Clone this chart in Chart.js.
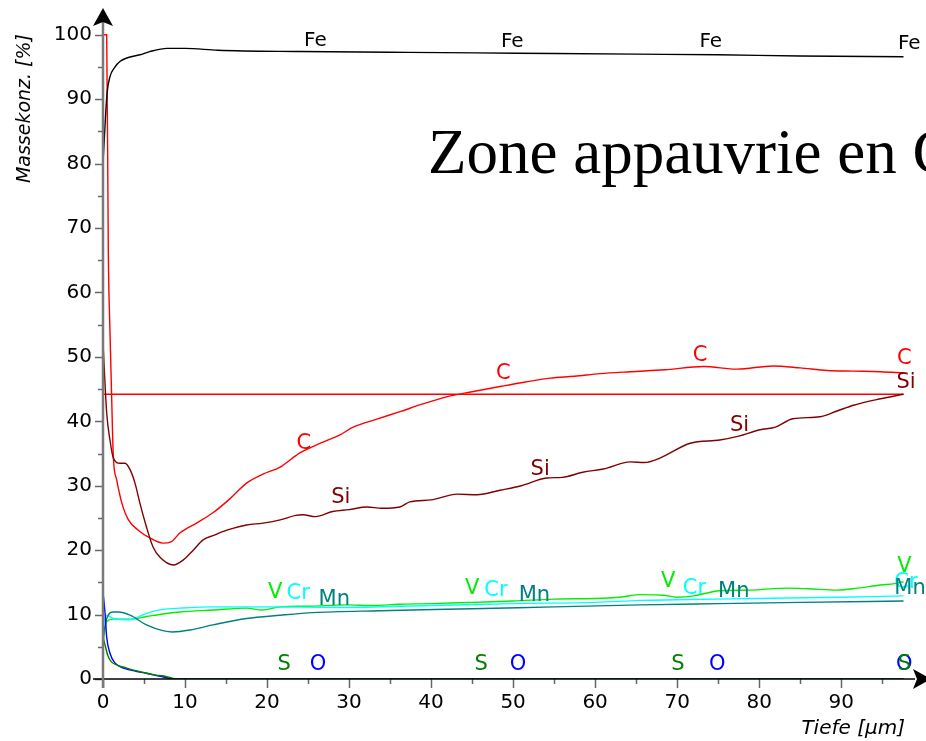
<!DOCTYPE html>
<html>
<head>
<meta charset="utf-8">
<script src="https://cdn.jsdelivr.net/npm/chart.js@4.4.1/dist/chart.umd.min.js"></script>
<style>
  html, body { margin: 0; padding: 0; background: #fff; }
  #wrap { width: 926px; height: 741px; overflow: hidden; }
</style>
</head>
<body>
<div id="wrap"><canvas id="profil" width="926" height="741"></canvas></div>
<script>
// Tiefenprofil (GDOES)
const tiefeFe = [0, 0.25, 0.5, 0.85, 1.45, 2.1, 2.9, 4.5, 5.7, 7.8, 10, 14, 24, 35, 45.6, 55, 65, 75, 85, 97.6];
const fe      = [80.1, 86, 91, 93.5, 95, 95.9, 96.4, 96.9, 97.4, 97.9, 97.9, 97.6, 97.4, 97.3, 97.2, 97.1, 97.0, 96.9, 96.7, 96.6];

const tiefeC = [0, 0.45, 0.65, 0.85, 1.05, 1.26, 1.67, 2.3, 3.1, 4.3, 5.7, 7.3, 8.3, 9.4, 11.4, 13.4, 15.5, 17.5, 19.5, 21.6,
                24, 26.5, 28.9, 30.5, 33.3, 36.2, 39, 41.9, 45, 48.4, 51.5, 54.5, 57.5, 60.6, 64.3, 68.5, 73.2, 77.3, 81.7,
                85, 88.3, 91.5, 94.8, 97.6];
const c      = [100, 100, 66, 54, 44, 34.5, 30.9, 27.3, 24.7, 23.1, 21.9, 21.1, 21.3, 22.7, 24.2, 25.8, 28, 30.4, 31.8, 32.9,
                35.1, 36.6, 37.9, 39.1, 40.3, 41.5, 42.7, 43.8, 44.6, 45.4, 46.1, 46.7, 47.0, 47.4, 47.7, 48.0, 48.5, 48.1, 48.6,
                48.3, 47.9, 47.8, 47.7, 47.5];
// horizontale Bezugslinie
const tiefeRef = [0, 97.6];
const cRef     = [44.2, 44.2];

const tiefeSi = [0, 0.45, 0.85, 1.26, 2.07, 2.7, 3.3, 3.9, 4.5, 5.3, 6.1, 6.95, 8.6, 9.8, 11, 12.2, 13.5, 15.1, 17.5, 19.5,
                 21.6, 23.5, 24.4, 25.9, 28, 30, 32.2, 34, 36.2, 37.4, 40, 43.2, 45.6, 48.4, 51, 54.1, 56, 58.5, 61, 64.3,
                 66, 67.9, 71.6, 75.2, 77.5, 80.1, 82, 84.1, 87.4, 89.5, 91.5, 94.8, 97.6];
const si      = [52.2, 41.3, 37.1, 34.3, 33.5, 33.5, 32.5, 30.4, 27.3, 23.6, 20.5, 18.9, 17.7, 18.5, 20.0, 21.6, 22.3, 23.1, 23.9, 24.2,
                 24.7, 25.4, 25.5, 25.2, 26.0, 26.3, 26.7, 26.5, 26.7, 27.5, 27.8, 28.7, 28.6, 29.3, 30.0, 31.2, 31.3, 32.1, 32.6, 33.7,
                 33.6, 34.3, 36.6, 37.1, 37.7, 38.7, 39.1, 40.4, 40.7, 41.6, 42.5, 43.5, 44.2];

const tiefeV = [0, 0.45, 1.26, 3.3, 5.3, 7.3, 9.4, 13.4, 17.5, 19.4, 21.6, 25, 29.7, 33, 36, 40, 45, 50, 55, 60,
                63, 65.5, 68.3, 70, 72, 75.2, 79, 83.4, 86, 89.5, 92, 94.8, 96.5, 97.6];
const v      = [5.6, 8.9, 9.3, 9.3, 9.7, 10.1, 10.4, 10.7, 11.0, 10.7, 11.2, 11.3, 11.5, 11.4, 11.6, 11.7, 11.9, 12.1, 12.4, 12.5,
                12.7, 13.1, 13.0, 12.7, 12.9, 13.7, 13.8, 14.1, 14.0, 13.8, 14.1, 14.6, 14.8, 15.1];

const tiefeCr = [0, 0.45, 1.26, 3.3, 5.3, 7.3, 9.4, 13.4, 20, 28.9, 40, 50, 60, 65.5, 70, 80, 90, 97.6];
const cr      = [8.1, 9.9, 9.4, 9.2, 10.2, 10.8, 11.0, 11.2, 11.2, 11.1, 11.4, 11.7, 11.9, 12.2, 12.3, 12.5, 12.7, 12.9];

const tiefeMn = [0, 0.45, 1.26, 1.9, 3.3, 5.3, 7.3, 8.5, 10.6, 13.4, 17.5, 21.6, 25.6, 33.8, 45, 55, 65.5, 75, 85, 97.6];
const mn      = [6.5, 9.4, 10.4, 10.4, 9.9, 8.4, 7.5, 7.3, 7.6, 8.4, 9.4, 9.9, 10.3, 10.6, 10.9, 11.2, 11.5, 11.7, 11.9, 12.1];

const tiefeS = [0, 0.3, 0.6, 1.0, 1.67, 2.9, 4.0, 5.3, 6.5, 7.3, 8.5, 10, 97.6];
const s      = [6.5, 5.0, 3.6, 2.7, 2.2, 1.7, 1.3, 0.9, 0.6, 0.5, 0.1, 0, 0];

const tiefeO = [0, 0.25, 0.45, 0.85, 1.45, 2.5, 4.0, 5.3, 7.0, 8.5, 10, 97.6];
const o      = [13.5, 10.2, 6.5, 4.0, 2.5, 1.7, 1.2, 0.9, 0.4, 0.05, 0, 0];

// Beschriftungen der Kurven (Tiefe, Konz.)
const beschriftung = [
  { text: 'Fe', farbe: '#000000', tiefe: [25.9, 49.9, 74.1, 98.3], konz: [99.1, 98.9, 98.9, 98.6] },
  { text: 'C',  farbe: '#ff0000', tiefe: [24.5, 48.8, 72.8, 97.7], konz: [36.6, 47.4, 50.2, 49.8] },
  { text: 'Si', farbe: '#800000', tiefe: [29.0, 53.3, 77.6, 97.9], konz: [28.1, 32.5, 39.3, 46.0] },
  { text: 'Cr', farbe: '#00ffff', tiefe: [23.8, 47.9, 72.1, 97.9], konz: [13.2, 13.7, 14.1, 14.9] },
  { text: 'V',  farbe: '#00ee00', tiefe: [21.0, 45.0, 68.9, 97.7], konz: [13.4, 14.0, 15.1, 17.4] },
  { text: 'Mn', farbe: '#008080', tiefe: [28.2, 52.6, 76.9, 98.4], konz: [12.3, 12.9, 13.5, 14.0] },
  { text: 'O',  farbe: '#0000ff', tiefe: [26.2, 50.6, 74.9, 97.7], konz: [2.3, 2.3, 2.3, 2.3] },
  { text: 'S',  farbe: '#008000', tiefe: [22.1, 46.1, 70.1, 97.7], konz: [2.3, 2.3, 2.3, 2.3] }
];

const xTicks = [0, 10, 20, 30, 40, 50, 60, 70, 80, 90];
const yTicks = [0, 10, 20, 30, 40, 50, 60, 70, 80, 90, 100];

function punkte(xs, ys) {
  return xs.map((x, i) => ({ x: x, y: ys[i] }));
}

function kurve(label, xs, ys, farbe) {
  return {
    label: label,
    data: punkte(xs, ys),
    borderColor: farbe,
    borderWidth: 1.4,
    pointRadius: 0,
    fill: false,
    cubicInterpolationMode: 'monotone'
  };
}

// Achsen, Pfeile, Striche und Texte selbst zeichnen
const achsenPlugin = {
  id: 'achsen',
  afterDatasetsDraw(chart) {
    const ctx = chart.ctx;
    const xs = chart.scales.x, ys = chart.scales.y;
    const x0 = xs.getPixelForValue(0), y0 = ys.getPixelForValue(0);
    const top = chart.chartArea.top, right = chart.chartArea.right;
    ctx.save();

    // Kurvenbeschriftung
    beschriftung.forEach(b => {
      ctx.font = (b.text === 'Fe' ? '20px' : '21px') + ' "DejaVu Sans", sans-serif';
      ctx.fillStyle = b.farbe;
      ctx.textAlign = 'center';
      ctx.textBaseline = 'middle';
      b.tiefe.forEach((t, i) => {
        ctx.fillText(b.text, xs.getPixelForValue(t), ys.getPixelForValue(b.konz[i]));
      });
    });

    // Minor/Major Striche
    ctx.strokeStyle = '#666';
    ctx.lineWidth = 1.5;
    for (let v = 0; v <= 95; v += 5) {
      const px = Math.round(xs.getPixelForValue(v)) + 0.5;
      ctx.beginPath();
      ctx.moveTo(px, y0);
      ctx.lineTo(px, y0 + (v % 10 === 0 ? 9 : 5));
      ctx.stroke();
    }
    for (let v = 0; v <= 100; v += 5) {
      const py = Math.round(ys.getPixelForValue(v)) + 0.5;
      ctx.beginPath();
      ctx.moveTo(x0, py);
      ctx.lineTo(x0 - (v % 10 === 0 ? 8 : 5), py);
      ctx.stroke();
    }

    // x-Achse
    ctx.strokeStyle = '#000';
    ctx.lineWidth = 1.5;
    ctx.beginPath();
    ctx.moveTo(x0 - 10, y0);
    ctx.lineTo(right, y0);
    ctx.stroke();
    // y-Achse
    ctx.strokeStyle = '#7a7a7a';
    ctx.lineWidth = 2.5;
    ctx.beginPath();
    ctx.moveTo(x0, y0 + 9);
    ctx.lineTo(x0, top + 2);
    ctx.stroke();

    // Pfeile
    ctx.fillStyle = '#000';
    ctx.beginPath();
    ctx.moveTo(x0, top - 12);
    ctx.lineTo(x0 + 10, top + 6);
    ctx.lineTo(x0, top + 2);
    ctx.lineTo(x0 - 10, top + 6);
    ctx.closePath();
    ctx.fill();
    ctx.beginPath();
    ctx.moveTo(right + 16, y0);
    ctx.lineTo(right - 2, y0 - 10);
    ctx.lineTo(right + 2, y0);
    ctx.lineTo(right - 2, y0 + 10);
    ctx.closePath();
    ctx.fill();

    // Achsentitel
    ctx.fillStyle = '#000';
    ctx.font = 'italic 20px "DejaVu Sans", sans-serif';
    ctx.textAlign = 'right';
    ctx.textBaseline = 'alphabetic';
    ctx.fillText('Tiefe [µm]', 905, 734);
    ctx.save();
    ctx.translate(30, 34);
    ctx.rotate(-Math.PI / 2);
    ctx.font = 'italic 19px "DejaVu Sans", sans-serif';
    ctx.textAlign = 'right';
    ctx.fillText('Massekonz. [%]', 0, 0);
    ctx.restore();

    // Überschrift
    ctx.font = '63px "Liberation Serif", "Times New Roman", serif';
    ctx.textAlign = 'left';
    ctx.fillText('Zone appauvrie en C', 428, 173);

    ctx.restore();
  }
};

const ctx = document.getElementById('profil').getContext('2d');
const myChart = new Chart(ctx, {
  type: 'line',
  data: {
    datasets: [
      kurve('Fe', tiefeFe, fe, '#000000'),
      kurve('S', tiefeS, s, '#008000'),
      kurve('O', tiefeO, o, '#0000ff'),
      kurve('Mn', tiefeMn, mn, '#008080'),
      kurve('Cr', tiefeCr, cr, '#00ffff'),
      kurve('V', tiefeV, v, '#00ee00'),
      kurve('Si', tiefeSi, si, '#800000'),
      kurve('C', tiefeC, c, '#ff0000'),
      kurve('C-Bezug', tiefeRef, cRef, '#ff0000')
    ]
  },
  options: {
    responsive: false,
    animation: false,
    devicePixelRatio: 1,
    layout: { padding: { top: 20, right: 11, left: 0, bottom: 0 } },
    plugins: {
      legend: { display: false },
      tooltip: { enabled: false }
    },
    scales: {
      x: {
        type: 'linear',
        min: 0,
        max: 99,
        afterFit: (scale) => { scale.height = 62; },
        afterBuildTicks: (scale) => { scale.ticks = xTicks.map(v => ({ value: v })); },
        grid: { display: false },
        border: { display: false },
        ticks: {
          color: '#000',
          padding: 4,
          font: { family: '"DejaVu Sans", sans-serif', size: 20 }
        }
      },
      y: {
        type: 'linear',
        min: 0,
        max: 102.3,
        afterFit: (scale) => { scale.width = 103; },
        afterBuildTicks: (scale) => { scale.ticks = yTicks.map(v => ({ value: v })); },
        grid: { display: false },
        border: { display: false },
        ticks: {
          color: '#000',
          padding: 3,
          font: { family: '"DejaVu Sans", sans-serif', size: 20 }
        }
      }
    }
  },
  plugins: [achsenPlugin]
});
</script>
</body>
</html>
